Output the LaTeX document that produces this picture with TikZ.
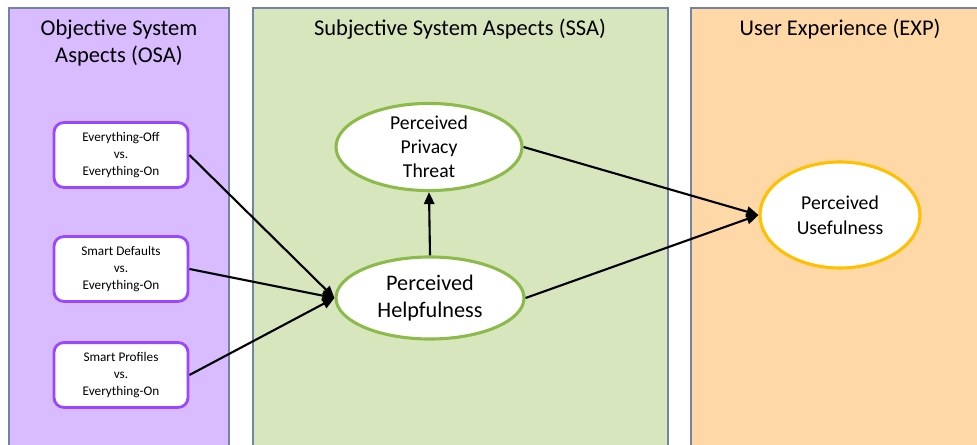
\documentclass[tikz,border=0pt]{standalone}
\usepackage{fontspec}
\setmainfont{Carlito}
\usepackage{xcolor}
\usetikzlibrary{shapes.geometric, arrows.meta, positioning}
\definecolor{osafill}{HTML}{D9BBFF}
\definecolor{ssafill}{HTML}{D8E6BE}
\definecolor{expfill}{HTML}{FFD8A7}
\definecolor{panelline}{HTML}{7383A3}
\definecolor{condline}{HTML}{9B47FF}
\definecolor{ssaline}{HTML}{8DBB4B}
\definecolor{expline}{HTML}{FFC000}
\tikzset{
  % Column panels
  panel/.style={rectangle, draw=panelline, line width=0.8pt, fill=#1},
  paneltitle/.style={align=center, font=\fontsize{16}{18.8}\selectfont, inner sep=0pt},
  % Conditions and constructs
  condbox/.style={rectangle, rounded corners=7pt, draw=condline, line width=2pt, fill=white, minimum width=3.35cm, minimum height=1.62cm, align=center, font=\fontsize{9.4}{11.8}\selectfont, inner sep=0pt},
  construct/.style={ellipse, draw=#1, line width=2.2pt, fill=white, align=center, inner sep=0pt},
  arrow/.style={-{Triangle[length=3mm, width=2.6mm]}, line width=1.5pt},
}
\begin{document}
\begin{tikzpicture}[x=0.025cm, y=-0.025cm]
    \useasboundingbox (0,0) rectangle (977,445);

    % Panels
    \draw[panel=osafill] (9,8) rectangle (229,450);
    \draw[panel=ssafill] (253,8) rectangle (668,450);
    \draw[panel=expfill] (691,8) rectangle (985,450);

    \node[paneltitle] (osa) at (119,43) {Objective System\\Aspects (OSA)};
    \node[paneltitle] (ssa) at (460,29) {Subjective System Aspects (SSA)};
    \node[paneltitle] (exp) at (840,29) {User Experience (EXP)};

    % Conditions
    \node[condbox] (off) at (121,155) {Everything-Off\\vs.\\Everything-On};
    \node[condbox] (defaults) at (121,269) {Smart Defaults\\vs.\\Everything-On};
    \node[condbox] (profiles) at (121,375) {Smart Profiles\\vs.\\Everything-On};

    % Constructs
    \node[construct=ssaline, minimum width=4.65cm, minimum height=2.15cm, font=\fontsize{14}{17}\selectfont] (threat) at (429,147) {Perceived\\Privacy\\Threat};
    \node[construct=ssaline, minimum width=4.7cm, minimum height=2.05cm, font=\fontsize{15.8}{19.2}\selectfont] (help) at (430,298) {Perceived\\Helpfulness};
    \node[construct=expline, minimum width=4cm, minimum height=2.65cm, font=\fontsize{14}{17.7}\selectfont] (useful) at (840,215) {Perceived\\Usefulness};

    % Paths
    \draw[arrow] (off.east) -- (help.west);
    \draw[arrow] (defaults.east) -- (help.west);
    \draw[arrow] (profiles.east) -- (help.west);
    \draw[arrow] (help.north) -- (threat.south);
    \draw[arrow] (threat.east) -- (useful.west);
    \draw[arrow] (help.east) -- (useful.west);
  \end{tikzpicture}
\end{document}
